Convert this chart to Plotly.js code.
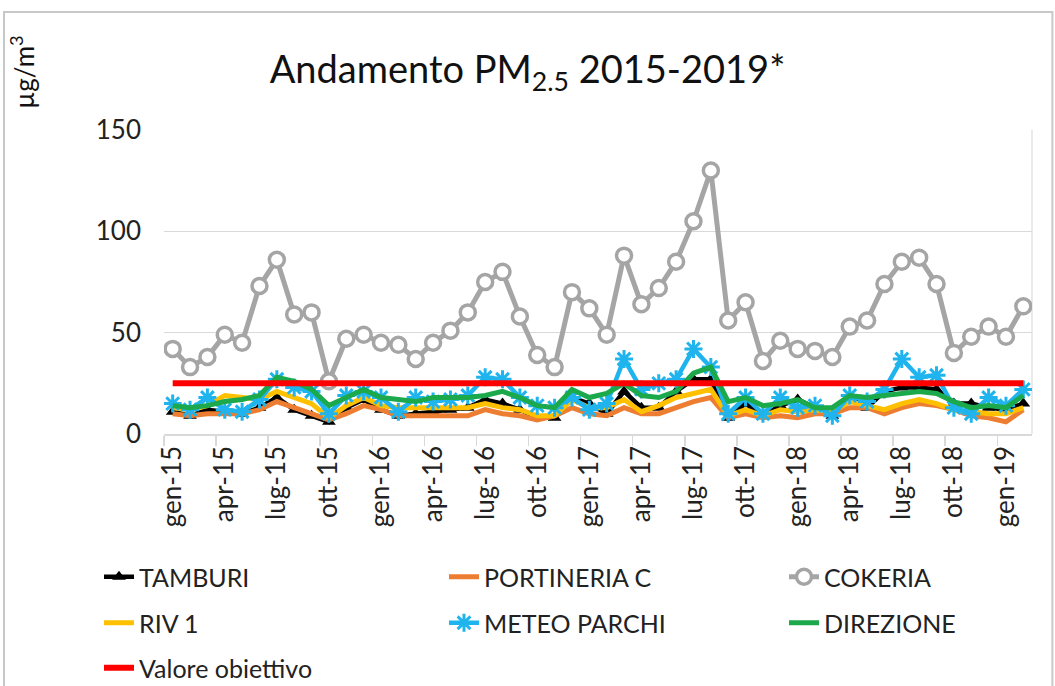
<!DOCTYPE html>
<html>
<head>
<meta charset="utf-8">
<script src="https://cdn.plot.ly/plotly-3.0.1.min.js"></script>
<style>
  html, body { margin: 0; padding: 0; background: #ffffff; }
  #chart { width: 1055px; height: 686px; }
</style>
</head>
<body>
<div id="chart"></div>
<script>
// ---- data ----
const months = ["gen","feb","mar","apr","mag","giu","lug","ago","set","ott","nov","dic"];
const categories = [];
for (let y = 15; y <= 19; y++) {
  for (let m = 0; m < 12; m++) {
    if (y === 19 && m > 1) break;
    categories.push(months[m] + "-" + y);
  }
}
const tamburi    = [11,9,12,11,10,13,18,12,9,6,13,17,12,9,10,11,12,13,17,15,12,8,8,18,15,10,21,13,13,21,27,27,8,15,9,14,17,13,9,18,13,21,23,23,22,15,15,13,12,15];
const portineria = [10,9,10,10,10,12,16,13,10,7,10,14,12,9,9,9,9,9,12,10,9,7,9,13,10,9,13,10,10,13,16,18,8,10,8,9,8,10,10,13,13,10,13,15,14,12,9,8,6,12];
const cokeria    = [42,33,38,49,45,73,86,59,60,26,47,49,45,44,37,45,51,60,75,80,58,39,33,70,62,49,88,64,72,85,105,130,56,65,36,46,42,41,38,53,56,74,85,87,74,40,48,53,48,63];
const riv1       = [13,12,14,19,18,17,21,18,15,8,14,18,14,13,13,13,13,13,15,13,12,9,9,17,13,13,17,11,14,18,20,22,9,12,9,12,11,12,11,16,14,12,15,17,15,12,11,10,10,13];
const meteo      = [15,12,18,12,11,17,27,23,21,10,19,21,18,11,18,16,17,19,28,27,18,14,13,18,12,15,37,22,25,27,42,33,10,18,10,18,13,14,9,19,16,22,37,28,29,13,10,18,14,22];
const direzione  = [14,13,14,16,17,19,28,26,22,14,18,22,18,17,16,18,18,18,19,21,18,14,13,22,18,20,25,19,18,21,30,33,16,18,14,15,17,13,13,19,18,19,20,21,20,16,13,14,13,19];
const obiettivo  = categories.map(() => 25);
const yTicks = [0, 50, 100, 150];

const FONT = "Lato, 'Open Sans', sans-serif";

const traces = [
  {name: "TAMBURI", x: categories, y: tamburi, type: "scatter", mode: "lines+markers",
   line: {color: "#000000", width: 4.5}, marker: {symbol: "triangle-up", size: 12, color: "#000000"}, legend: "legend"},
  {name: "PORTINERIA C", x: categories, y: portineria, type: "scatter", mode: "lines",
   line: {color: "#ED7D31", width: 5}, legend: "legend2"},
  {name: "COKERIA", x: categories, y: cokeria, type: "scatter", mode: "lines+markers",
   line: {color: "#A5A5A5", width: 5}, marker: {symbol: "circle", size: 15, color: "#ffffff", line: {color: "#A5A5A5", width: 3.5}}, legend: "legend3"},
  {name: "RIV 1", x: categories, y: riv1, type: "scatter", mode: "lines",
   line: {color: "#FFC000", width: 5}, legend: "legend4"},
  {name: "METEO PARCHI", x: categories, y: meteo, type: "scatter", mode: "lines+markers",
   line: {color: "#1FB4EE", width: 4.5}, marker: {symbol: "asterisk-open", size: 15, line: {color: "#1FB4EE", width: 3}}, legend: "legend5"},
  {name: "DIREZIONE", x: categories, y: direzione, type: "scatter", mode: "lines",
   line: {color: "#1BA94C", width: 5}, legend: "legend6"},
  {name: "Valore obiettivo", x: categories, y: obiettivo, type: "scatter", mode: "lines",
   line: {color: "#FF0000", width: 6}, legend: "legend7"}
];

function leg(xpx, ypx) {
  return {orientation: "h", xref: "container", yref: "container",
    xanchor: "left", yanchor: "middle", x: xpx / 1055, y: 1 - ypx / 686,
    font: {family: FONT, size: 25, color: "#222"},
    bgcolor: "rgba(0,0,0,0)", borderwidth: 0, itemclick: false};
}

const layout = {
  width: 1055, height: 686,
  margin: {l: 164, r: 23, t: 130, b: 252},
  paper_bgcolor: "#ffffff", plot_bgcolor: "#ffffff",
  font: {family: FONT, color: "#222"},
  title: {text: "Andamento PM<sub>2.5</sub> 2015-2019*", font: {family: FONT, size: 38, color: "#111"},
          xref: "container", x: 0.5, xanchor: "center", yref: "container", y: 1 - 70/686, yanchor: "middle"},
  xaxis: {type: "category", range: [-0.5, 49.5], autorange: false, tickmode: "linear", tick0: 0, dtick: 3, tickson: "boundaries",
          ticks: "outside", ticklen: 10, tickcolor: "#d9d9d9", tickwidth: 1.5,
          tickangle: -90, showgrid: false, showline: true, linecolor: "#d9d9d9", linewidth: 1.5,
          tickfont: {family: FONT, size: 26, color: "#222"}, zeroline: false, fixedrange: true},
  yaxis: {range: [0, 150], autorange: false, tickvals: yTicks, ticktext: yTicks.map(String), showgrid: true,
          gridcolor: "#d9d9d9", gridwidth: 1.5, zeroline: false, showline: false, ticks: "",
          ticklabelstandoff: 22, tickfont: {family: FONT, size: 26, color: "#222"}, fixedrange: true},
  legend:  leg(99, 577),
  legend2: leg(444, 577),
  legend3: leg(784, 577),
  legend4: leg(99, 623),
  legend5: leg(444, 623),
  legend6: leg(784, 623),
  legend7: leg(99, 668),
  annotations: [
    {text: "µg/m<sup>3</sup>", xref: "paper", yref: "paper", x: -0.163, y: 1.19,
     xanchor: "center", yanchor: "middle", textangle: -90, showarrow: false,
     font: {family: FONT, size: 26, color: "#111"}}
  ],
  shapes: [
    {type: "rect", xref: "paper", yref: "paper", x0: -0.1843, x1: 1.0235, y0: -1.0, y1: 1.388,
     line: {color: "#c8c8c8", width: 2}, fillcolor: "rgba(0,0,0,0)", layer: "below"},
    {type: "line", xref: "paper", yref: "paper", x0: 1, x1: 1, y0: 0, y1: 1,
     line: {color: "#e3e3e3", width: 1.5}, layer: "below"}
  ],
  showlegend: true
};

Plotly.newPlot("chart", traces, layout, {displayModeBar: false, staticPlot: true});
</script>
</body>
</html>
